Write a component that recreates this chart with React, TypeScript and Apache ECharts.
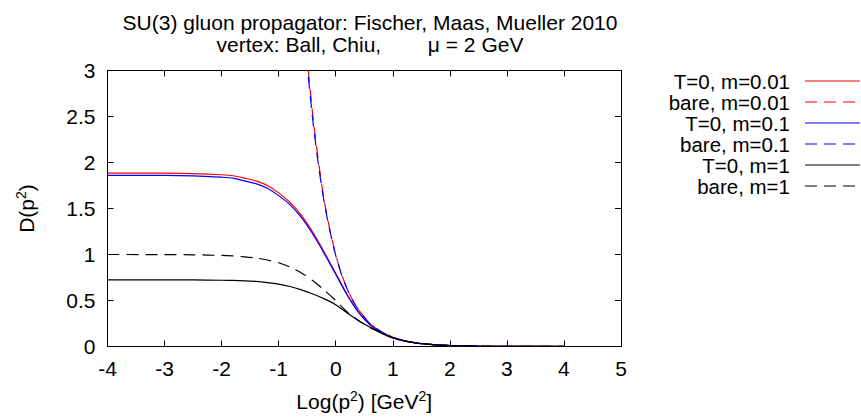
import React, { useEffect, useRef } from 'react';
import * as echarts from 'echarts';

// ---- data ----
const xTicks = [-4, -3, -2, -1, 0, 1, 2, 3, 4, 5];
const yTicks = [0, 0.5, 1, 1.5, 2, 2.5, 3];

const xSolid = [-4, -3, -2.5, -2, -1.8, -1.6, -1.4, -1.2, -1.0, -0.8, -0.6, -0.4, -0.2, 0, 0.2, 0.4, 0.6, 0.8, 1.0, 1.2, 1.4, 1.6, 1.8, 2.0, 2.5, 3, 4, 4.7];
const yRedT0 = [1.885, 1.885, 1.88, 1.867, 1.856, 1.83, 1.80, 1.75, 1.67, 1.565, 1.425, 1.24, 1.025, 0.795, 0.565, 0.373, 0.237, 0.151, 0.097, 0.062, 0.04, 0.026, 0.017, 0.011, 0.004, 0.0015, 0.0003, 0.0001];
const yBlueT0 = [1.86, 1.86, 1.855, 1.84, 1.83, 1.80, 1.77, 1.72, 1.64, 1.54, 1.40, 1.22, 1.01, 0.785, 0.56, 0.37, 0.235, 0.15, 0.096, 0.062, 0.04, 0.026, 0.017, 0.011, 0.004, 0.0015, 0.0003, 0.0001];
const yBlackT0 = [0.725, 0.725, 0.724, 0.72, 0.718, 0.714, 0.707, 0.695, 0.678, 0.652, 0.615, 0.57, 0.518, 0.455, 0.365, 0.28, 0.21, 0.145, 0.093, 0.06, 0.038, 0.025, 0.016, 0.011, 0.004, 0.0015, 0.0003, 0.0001];
const yBlackBare = [1.0, 0.999, 0.997, 0.99, 0.984, 0.975, 0.962, 0.94, 0.91, 0.863, 0.80, 0.715, 0.613, 0.50, 0.375, 0.283, 0.207, 0.148, 0.095, 0.061, 0.039, 0.026, 0.017, 0.011, 0.004, 0.0015, 0.0003, 0.0001];

const xBare = [-0.48, -0.4, -0.3, -0.2, -0.1, 0, 0.1, 0.2, 0.3, 0.4, 0.5, 0.6, 0.8, 1.0, 1.2, 1.5, 2.0, 2.5, 3, 4, 4.7];
const yRedBare = [3.0, 2.5, 2.0, 1.58, 1.26, 1.0, 0.79, 0.63, 0.50, 0.40, 0.32, 0.25, 0.16, 0.10, 0.063, 0.032, 0.01, 0.003, 0.001, 0.0001, 0];
const yBlueBare = [2.93, 2.45, 1.96, 1.56, 1.25, 0.99, 0.785, 0.625, 0.497, 0.398, 0.318, 0.249, 0.16, 0.10, 0.063, 0.032, 0.01, 0.003, 0.001, 0.0001, 0];

const seriesNames = ['T=0, m=0.01', 'bare, m=0.01', 'T=0, m=0.1', 'bare, m=0.1', 'T=0, m=1', 'bare, m=1'];
const seriesColors = ['#ff0000', '#ff0000', '#0000ff', '#0000ff', '#000000', '#000000'];
const seriesDashed = [false, true, false, true, false, true];

const titleLines = ['SU(3) gluon propagator: Fischer, Maas, Mueller 2010', 'vertex: Ball, Chiu,        \u03bc = 2 GeV'];

const FONT = 'Liberation Sans';
const DASH = [12, 7];

export default function App() {
  const ref = useRef<HTMLDivElement>(null);
  useEffect(() => {
    const chart = echarts.init(ref.current!, null, { renderer: 'svg' });
    const pair = (xs: number[], ys: number[]) => xs.map((x, i) => [x, ys[i]]);
    const seriesData = [
      pair(xSolid, yRedT0),
      pair(xBare, yRedBare),
      pair(xSolid, yBlueT0),
      pair(xBare, yBlueBare),
      pair(xSolid, yBlackT0),
      pair(xSolid, yBlackBare),
    ];
    const rich = {
      a: { fontSize: 21, fontFamily: FONT, color: '#000', lineHeight: 26 },
      s: { fontSize: 14, fontFamily: FONT, color: '#000', lineHeight: 14, verticalAlign: 'top' },
    };
    const lineCol = { color: '#000', width: 1 };
    const xBase = {
      type: 'value', min: xTicks[0], max: xTicks[xTicks.length - 1], interval: 1,
      axisLine: { show: true, onZero: false, lineStyle: lineCol },
      axisTick: { show: true, inside: true, length: 6, lineStyle: lineCol },
      splitLine: { show: false },
    };
    const yBase = {
      type: 'value', min: yTicks[0], max: yTicks[yTicks.length - 1], interval: 0.5,
      axisLine: { show: true, onZero: false, lineStyle: lineCol },
      axisTick: { show: true, inside: true, length: 6, lineStyle: lineCol },
      splitLine: { show: false },
    };
    const legendTop = 81;
    const legendStep = 21;
    const legendGraphics: any[] = [];
    seriesNames.forEach((n, i) => {
      const y = legendTop + i * legendStep;
      legendGraphics.push({
        type: 'text', x: 790, y,
        style: { text: n, fill: '#000', fontSize: 20.5, fontFamily: FONT, textAlign: 'right', textVerticalAlign: 'middle' },
      });
      legendGraphics.push({
        type: 'line', shape: { x1: 805, y1: y, x2: 860, y2: y },
        style: { stroke: seriesColors[i], lineWidth: 1.2, lineDash: seriesDashed[i] ? DASH : null },
      });
    });

    chart.setOption({
      animation: false,
      backgroundColor: '#ffffff',
      title: {
        text: titleLines.join('\n'),
        left: 365, top: 7, textAlign: 'center',
        textStyle: { fontSize: 21, fontWeight: 'normal', fontFamily: FONT, color: '#000', lineHeight: 21.7 },
      },
      grid: { left: 107.5, right: 240, top: 70.5, bottom: 65.5, containLabel: false },
      xAxis: [
        {
          ...xBase, position: 'bottom',
          axisLabel: { fontSize: 21, fontFamily: FONT, color: '#000', margin: 11 },
          name: '{a|Log(p}{s|2}{a|) [GeV}{s|2}{a|]}',
          nameLocation: 'middle', nameGap: 42,
          nameTextStyle: { rich },
        },
        { ...xBase, position: 'top', axisLabel: { show: false } },
      ],
      yAxis: [
        {
          ...yBase, position: 'left',
          axisLabel: { fontSize: 21, fontFamily: FONT, color: '#000', margin: 12 },
          name: '{a|D(p}{s|2}{a|)}',
          nameLocation: 'middle', nameGap: 68, nameRotate: 90,
          nameTextStyle: { rich },
        },
        { ...yBase, position: 'right', axisLabel: { show: false } },
      ],
      series: seriesNames.map((n, i) => ({
        type: 'line', name: n, data: seriesData[i],
        xAxisIndex: 0, yAxisIndex: 0,
        symbol: 'none', showSymbol: false,
        smooth: 0.25,
        clip: true,
        lineStyle: { color: seriesColors[i], width: 1.2, type: seriesDashed[i] ? DASH : 'solid' },
        itemStyle: { color: seriesColors[i] },
      })),
      graphic: legendGraphics,
    });
    return () => chart.dispose();
  }, []);
  return <div ref={ref} style={{ position: 'fixed', left: 0, top: 0, width: 861, height: 417 }} />;
}
